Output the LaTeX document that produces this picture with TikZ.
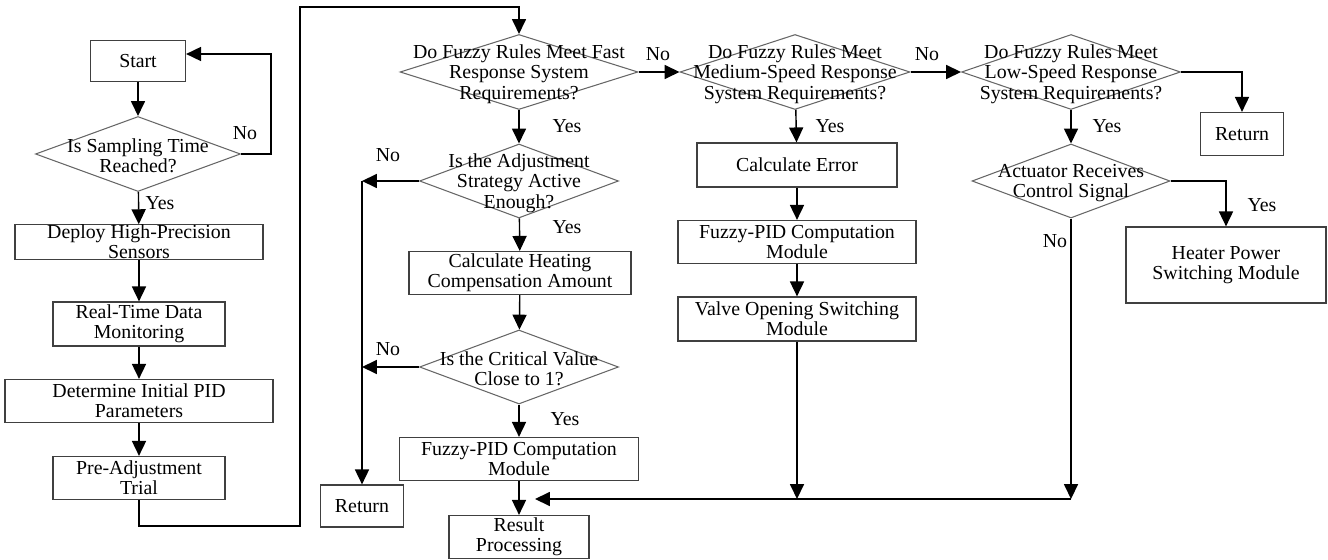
\documentclass[tikz,border=0pt]{standalone}
\usepackage{fontspec}
\setmainfont{Liberation Serif}
\usetikzlibrary{shapes.geometric,arrows.meta}
\tikzset{
  box/.style={draw=black!75,line width=0.7pt,align=center,inner sep=0pt},
  dec/.style={diamond,draw=black!60,line width=0.6pt,inner sep=0pt},
  dlab/.style={align=center,inner sep=0pt,yshift=-0.04cm},
  arr/.style={-{Triangle[length=8.5pt,width=8pt]},line width=0.8pt},
  lab/.style={inner sep=0pt},
}
\begin{document}
\begin{tikzpicture}[x=0.02cm,y=-0.02cm,font=\fontsize{11.3}{11.6}\selectfont]
\useasboundingbox (0,0) rectangle (1328,560);
% left column
\node[box,minimum width=1.9cm,minimum height=0.82cm] (start) at (138,61) {Start};
\node[dec,minimum width=4.1cm,minimum height=1.5cm,
      label={[dlab]center:{Is Sampling Time\\Reached?}}] (samp) at (138,154) {};
\node[box,minimum width=4.96cm,minimum height=0.68cm] (deploy) at (139,242) {Deploy High-Precision\\Sensors};
\node[box,minimum width=3.44cm,minimum height=0.88cm] (mon) at (139,324) {Real-Time Data\\Monitoring};
\node[box,minimum width=5.36cm,minimum height=0.86cm] (pid) at (139,401) {Determine Initial PID\\Parameters};
\node[box,minimum width=3.44cm,minimum height=0.86cm] (pre) at (139,478) {Pre-Adjustment\\Trial};
% fast response branch
\node[dec,minimum width=4.76cm,minimum height=1.5cm,
      label={[dlab]center:{Do Fuzzy Rules Meet Fast\\Response System\\Requirements?}}] (fast) at (519,72) {};
\node[dec,minimum width=3.98cm,minimum height=1.48cm,
      label={[dlab]center:{Is the Adjustment\\Strategy Active\\Enough?}}] (adj) at (519,181) {};
\node[box,minimum width=4.44cm,minimum height=0.86cm] (heat) at (520,273) {Calculate Heating\\Compensation Amount};
\node[dec,minimum width=3.98cm,minimum height=1.48cm,
      label={[dlab]center:{Is the Critical Value\\Close to 1?}}] (crit) at (519,367) {};
\node[box,minimum width=4.78cm,minimum height=0.86cm] (fz1) at (519,459) {Fuzzy-PID Computation\\Module};
\node[box,minimum width=1.66cm,minimum height=0.84cm] (ret1) at (362,506) {Return};
\node[box,minimum width=2.8cm,minimum height=0.86cm] (res) at (519,537) {Result\\Processing};
\coordinate (mrg) at (519,499);
% medium speed branch
\node[dec,minimum width=4.6cm,minimum height=1.5cm,
      label={[dlab]center:{Do Fuzzy Rules Meet\\Medium-Speed Response\\System Requirements?}}] (med) at (795,72) {};
\node[box,minimum width=4cm,minimum height=0.88cm] (err) at (797,165) {Calculate Error};
\node[box,minimum width=4.76cm,minimum height=0.86cm] (fz2) at (797,242) {Fuzzy-PID Computation\\Module};
\node[box,minimum width=4.76cm,minimum height=0.88cm] (valve) at (797,319) {Valve Opening Switching\\Module};
% low speed branch
\node[dec,minimum width=4.38cm,minimum height=1.5cm,
      label={[dlab]center:{Do Fuzzy Rules Meet\\Low-Speed Response\\System Requirements?}}] (low) at (1071,72) {};
\node[box,minimum width=1.66cm,minimum height=0.86cm] (ret2) at (1242,134) {Return};
\node[dec,minimum width=3.96cm,minimum height=1.48cm,
      label={[dlab]center:{Actuator Receives\\Control Signal}}] (act) at (1071,181) {};
\node[box,minimum width=4cm,minimum height=1.52cm] (heater) at (1226,265) {Heater Power\\Switching Module};

% connectors
\draw[arr] (start) -- (samp);
\draw[arr] (samp.east) -- ++(30,0) |- ([yshift=0.14cm]start.east);
\draw[arr] (samp) -- (deploy);
\draw[arr] (deploy) -- (mon);
\draw[arr] (mon) -- (pid);
\draw[arr] (pid) -- (pre);
\draw[arr] (pre.south) |- (300,526) |- ([yshift=0.54cm]fast.north) -- (fast.north);
\draw[arr] (fast) -- (adj);
\draw[arr] (fast.east) -- (med.west);
\draw[arr] (adj.west) -- (ret1.north |- adj.west);
\draw[arr] (ret1.north |- adj.west) -- (ret1.north);
\draw[arr] (adj) -- (heat);
\draw[arr] (heat) -- (crit);
\draw[arr] (crit.west) -- (ret1.north |- crit.west);
\draw[arr] (crit) -- (fz1);
\draw[arr] (fz1) -- (res);
\draw[arr] (med) -- (err);
\draw[arr] (err) -- (fz2);
\draw[arr] (fz2) -- (valve);
\draw[arr] (valve.south) -- (valve.south |- mrg);
\draw[arr] (med.east) -- (low.west);
\draw[arr] (low.east) -| (ret2.north);
\draw[arr] (low) -- (act);
\draw[arr] (act.east) -| (heater.north);
\draw[arr] (act.south) -- (act.south |- mrg);
\draw[arr] (act.south |- mrg) -- ([xshift=0.32cm]mrg);

% branch labels
\node[lab] (n1) at (245,133) {No};
\node[lab] (y1) at (160,203) {Yes};
\node[lab] (n2) at (658,54) {No};
\node[lab] (y2) at (567,126) {Yes};
\node[lab] (n3) at (388,155) {No};
\node[lab] (y3) at (567,227) {Yes};
\node[lab] (n4) at (388,349) {No};
\node[lab] (y4) at (565,419) {Yes};
\node[lab] (n5) at (927,54) {No};
\node[lab] (y5) at (830,126) {Yes};
\node[lab] (y6) at (1107,126) {Yes};
\node[lab] (y7) at (1262,205) {Yes};
\node[lab] (n6) at (1055,241) {No};
\end{tikzpicture}
\end{document}
